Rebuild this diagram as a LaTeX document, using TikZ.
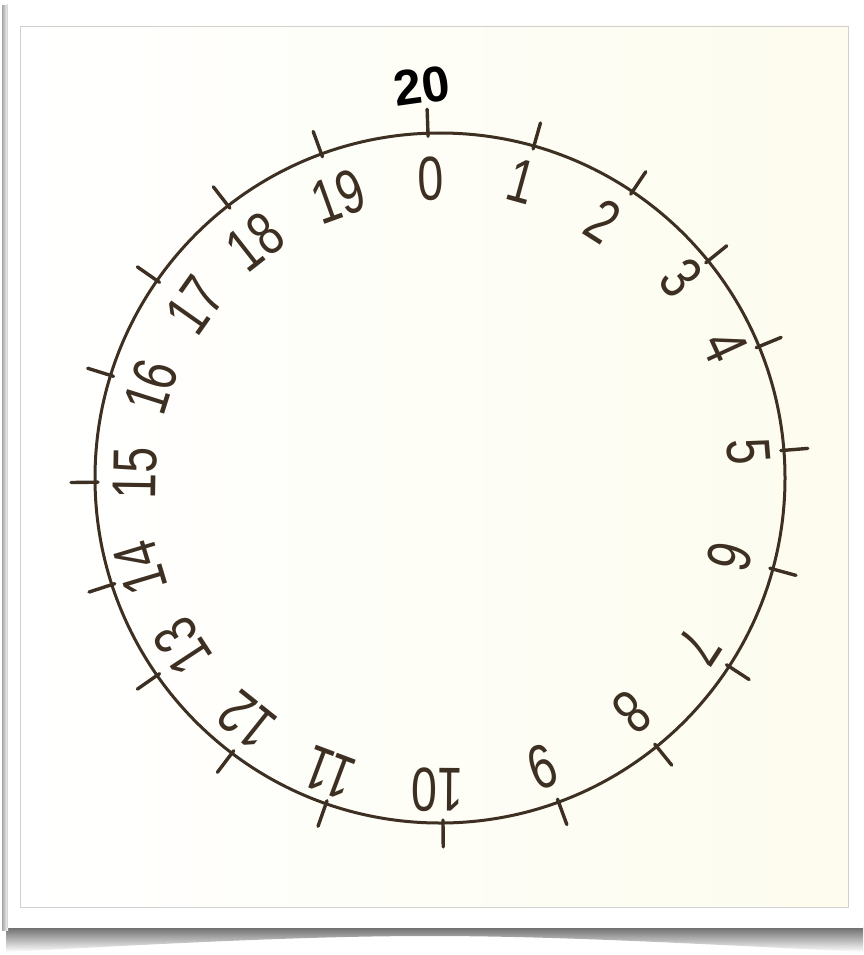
\documentclass[tikz,border=0pt]{standalone}
\usepackage{fontspec}
\setmainfont{Liberation Sans}
\definecolor{ink}{HTML}{3D3022}
\definecolor{paper}{HTML}{FDFCEE}
\definecolor{cardedge}{HTML}{D8D8D8}
\begin{document}
\begin{tikzpicture}[x=1pt,y=-1pt,
  numlabel/.style={text=ink,inner sep=0pt,font=\fontsize{62}{62}\selectfont},
  tickline/.style={draw=ink,line width=3.4pt,line cap=round},
  ring/.style={draw=ink,line width=3pt}]
\useasboundingbox (0,0) rectangle (863,955);
% page background and card with shadow
\fill[white] (0,0) rectangle (863,955);
\shade[top color=black!60,bottom color=white] (6,926) -- (863,926) -- (863,952)
  .. controls (700,944) and (560,936) .. (430,936)
  .. controls (300,936) and (160,944) .. (6,952) -- cycle;
\shade[left color=black!35,right color=white] (2,6) rectangle (8,930);
\fill[white] (7,4) rectangle (863,928);
\draw[cardedge,line width=0.6pt] (7,4) -- (7,928);
% photo
\shade[left color=white,right color=paper] (20,26) rectangle (848,907);
\draw[black!18,line width=0.8pt] (20,26) rectangle (848,907);
% circle
\coordinate (c) at (440,478);
\draw[ring] (c) circle[radius=345];
% ticks
\foreach \k/\a in {0/92,1/74.2,2/56.1,3/39,4/22.4,5/4.6,6/-15.3,7/-33.1,8/-51.1,9/-69.9,
  10/-89.5,11/-109.3,12/-127.1,13/-145.1,14/-162,15/-179.3,16/162.7,17/145.1,18/127.9,19/110.1}{
  \coordinate (ti\k) at ({440+342*cos(\a)},{478-342*sin(\a)});
  \coordinate (to\k) at ({440+369*cos(\a)},{478-369*sin(\a)});
  \draw[tickline] (ti\k) -- (to\k);
}
% numbers
\foreach \k/\a/\r in {0/91.7/299,1/74.6/308,2/57.6/304,3/39.7/313,4/24.7/314,5/4.8/310,
  6/-15.1/300,7/-33.1/309,8/-50.6/303,9/-70.5/306,10/-90.4/312,11/-110.6/315,
  12/-128.6/310,13/-146.8/308,14/-163.3/313,15/-180.9/305,16/162.5/303,17/144.8/300,
  18/128.1/300,19/109.8/299}{
  \node[numlabel,rotate=\a-90,xscale=0.75] (n\k) at ({440+\r*cos(\a)},{478-\r*sin(\a)}) {\k};
}
% top label
\node[text=black,inner sep=0pt,font=\bfseries\fontsize{50}{50}\selectfont,rotate=8] (top) at (422,86) {20};
\end{tikzpicture}
\end{document}
